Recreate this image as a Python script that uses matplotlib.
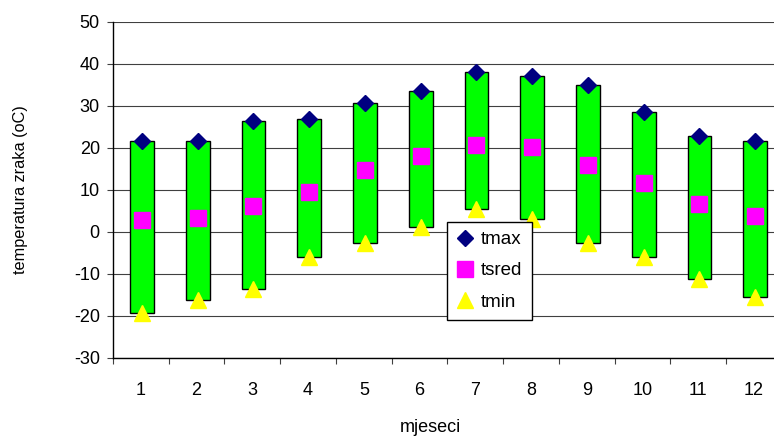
import matplotlib
matplotlib.use("Agg")
import matplotlib.pyplot as plt
import numpy as np

plt.rcParams['font.family'] = ['Liberation Sans', 'DejaVu Sans']

months = ['1', '2', '3', '4', '5', '6', '7', '8', '9', '10', '11', '12']
tmax = [21.7, 21.7, 26.4, 26.8, 30.6, 33.5, 38.2, 37.1, 34.9, 28.6, 22.9, 21.6]
tsred = [2.9, 3.4, 6.2, 9.6, 14.7, 18.1, 20.6, 20.2, 15.9, 11.7, 6.7, 3.9]
tmin = [-19.2, -16.2, -13.5, -6.0, -2.5, 1.2, 5.5, 3.1, -2.5, -6.0, -11.1, -15.4]
yticks = [-30, -20, -10, 0, 10, 20, 30, 40, 50]

fig = plt.figure(figsize=(7.74, 4.37), dpi=100)
ax = fig.add_axes([113/774, 1-358/437, 669/774, 336/437])

x = np.arange(1, len(months) + 1)
hi = np.array(tmax)
lo = np.array(tmin)
ax.bar(x + 0.02, hi - lo, bottom=lo, width=0.43, color='#00FF00', edgecolor='black',
       linewidth=1.0, zorder=3)

ax.plot(x + 0.02, tmax, linestyle='none', marker='D', markersize=8.5, color='#000080',
        label='tmax', zorder=4)
ax.plot(x + 0.02, tsred, linestyle='none', marker='s', markersize=11.5, color='#FF00FF',
        label='tsred', zorder=4)
ax.plot(x + 0.02, tmin, linestyle='none', marker='^', markersize=11, color='#FFFF00',
        label='tmin', zorder=4)

ax.set_xlim(0.5, 12.5)
ax.set_ylim(-30, 50)
ax.set_yticks(yticks)
ax.set_yticklabels([str(v) for v in yticks])
for v in yticks:
    ax.axhline(v, color='#404040', linewidth=0.8, zorder=1)

# x ticks: labels at centers, tick marks at boundaries
ax.set_xticks(x)
ax.set_xticklabels(months)
ax.set_xticks(np.arange(0.5, 13.0, 1.0), minor=True)
ax.tick_params(axis='x', which='major', length=0, pad=17, labelsize=13)
ax.tick_params(axis='x', which='minor', length=4, width=0.8, direction='out', color='#404040')
ax.tick_params(axis='y', which='major', length=4.5, width=0.8, direction='out',
               pad=5.0, labelsize=13, color='#404040')

for s in ['top', 'right']:
    ax.spines[s].set_visible(False)
ax.spines['left'].set_linewidth(1.0)
ax.spines['bottom'].set_linewidth(1.0)

ax.set_ylabel('temperatura zraka (oC)', fontsize=11.7)
ax.yaxis.set_label_coords(-0.127, 0.5)
ax.set_xlabel('mjeseci', fontsize=13)
ax.xaxis.set_label_coords(0.475, -0.183)

leg = ax.legend(loc='lower left', bbox_to_anchor=(0.500, 0.113), borderaxespad=0,
                fontsize=13.5, frameon=True, fancybox=False, edgecolor='black',
                framealpha=1, handlelength=0.9, handletextpad=0.4,
                labelspacing=0.75, borderpad=0.5)
leg.get_frame().set_linewidth(1.0)
leg.set_zorder(5)

fig.savefig('out.png', dpi=100)
